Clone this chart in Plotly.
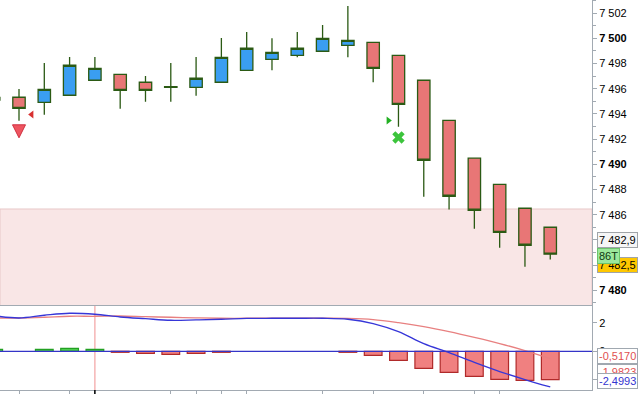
import plotly.graph_objects as go

# ---------------- data ----------------
bar_index = list(range(-1, 22))
opens  = [7495.30, 7495.32, 7494.92, 7495.48, 7496.67, 7497.14, 7496.51, 7496.16, 7496.11, 7496.51,
          7497.46, 7498.33, 7498.65, 7498.97, 7499.44, 7499.68, 7498.65, 7496.67, 7493.49, 7490.48,
          7488.41, 7486.51, 7485.00]
highs  = [7495.30, 7495.98, 7498.04, 7498.52, 7498.52, 7497.14, 7497.01, 7498.04, 7498.52, 7500.02,
          7500.50, 7500.00, 7500.50, 7501.06, 7502.56, 7499.68, 7498.65, 7496.67, 7493.49, 7490.48,
          7488.41, 7486.51, 7485.00]
lows   = [7495.10, 7493.46, 7493.94, 7495.48, 7496.67, 7494.41, 7494.97, 7494.97, 7495.44, 7496.51,
          7497.46, 7497.46, 7498.49, 7498.97, 7498.49, 7496.51, 7492.98, 7487.43, 7486.40, 7484.89,
          7483.38, 7481.87, 7482.44]
closes = [7495.10, 7494.44, 7495.95, 7497.86, 7497.62, 7495.87, 7495.87, 7496.10, 7496.83, 7498.49,
          7499.21, 7498.89, 7499.21, 7500.00, 7499.84, 7497.62, 7494.76, 7490.32, 7487.46, 7486.35,
          7484.60, 7483.57, 7482.86]

macd_line   = [2.49, 2.33, 2.52, 2.66, 2.59, 2.40, 2.28, 2.17, 2.20, 2.24, 2.30, 2.31, 2.31, 2.31,
               2.24, 1.94, 1.37, 0.53, -0.10, -0.78, -1.42, -1.98, -2.4993]
signal_line = [2.33, 2.33, 2.38, 2.45, 2.45, 2.47, 2.42, 2.38, 2.34, 2.31, 2.31, 2.31, 2.31, 2.31,
               2.30, 2.22, 2.00, 1.72, 1.37, 0.97, 0.54, 0.05, -0.5170]
histogram   = [0.14, 0.0, 0.14, 0.21, 0.14, -0.07, -0.14, -0.21, -0.14, -0.07, 0.0, 0.0, 0.0, 0.0,
               -0.07, -0.28, -0.63, -1.19, -1.47, -1.75, -1.96, -2.03, -1.98]

price_ticks = [7480, 7482, 7484, 7486, 7488, 7490, 7492, 7494, 7496, 7498, 7500, 7502]
price_minor = [7479, 7481, 7483, 7485, 7487, 7489, 7491, 7493, 7495, 7497, 7499, 7501, 7503]
bold_ticks = [7480, 7490, 7500]
time_ticks = [0, 2, 3, 6, 7, 8, 9, 12, 14, 16, 18, 19]
session_break = 3

zone_top = 7486.45
zone_bottom = 7470.0

sell_arrow_x, sell_arrow_y = [0], [7492.1]
sell_tri_x, sell_tri_y = [0.5], [7493.95]
buy_tri_x, buy_tri_y = [14.6], [7493.48]
exit_x, exit_y = [15], [7492.13]

last_close_label = "7 482,9"
last_low_label = "7 482,5"
tick_count_label = "86T"
signal_label = "-0,5170"
hist_label = "-1,9823"
macd_label = "-2,4993"

# ---------------- figure ----------------
AXIS = "#a2aab2"
EDGE = "#2b5a14"
FONT = "Arial"

def fmt(v):
    s = f"{v:,}".replace(",", " ")
    return f"<b>{s}</b>" if v in bold_ticks else s

fig = go.Figure()

fig.add_trace(go.Candlestick(
    x=bar_index, open=opens, high=highs, low=lows, close=closes,
    increasing=dict(fillcolor="#3a9ef2", line=dict(color=EDGE, width=1.3)),
    decreasing=dict(fillcolor="#e87676", line=dict(color=EDGE, width=1.3)),
    whiskerwidth=0, xaxis="x", yaxis="y", hoverinfo="skip"))

fig.add_trace(go.Scatter(x=sell_arrow_x, y=sell_arrow_y, mode="markers", xaxis="x", yaxis="y",
                         marker=dict(symbol="arrow-down", size=13, color="#ee5560",
                                     line=dict(color="#d03040", width=1))))
fig.add_trace(go.Scatter(x=sell_tri_x, y=sell_tri_y, mode="markers", xaxis="x", yaxis="y",
                         marker=dict(symbol="triangle-left", size=7, color="#d83030")))
fig.add_trace(go.Scatter(x=buy_tri_x, y=buy_tri_y, mode="markers", xaxis="x", yaxis="y",
                         marker=dict(symbol="triangle-right", size=7, color="#22b022")))
fig.add_trace(go.Scatter(x=exit_x, y=exit_y, mode="markers", xaxis="x", yaxis="y",
                         marker=dict(symbol="x", size=11, color="#3cc43c")))

hist_vals = [None if h == 0 else h for h in histogram]
hist_fill = ["#4ccc4c" if (h or 0) > 0 else "#f08080" for h in histogram]
hist_edge = ["#22a022" if (h or 0) > 0 else "#b02a2a" for h in histogram]
fig.add_trace(go.Bar(x=bar_index, y=hist_vals, xaxis="x2", yaxis="y2",
                     marker=dict(color=hist_fill, line=dict(color=hist_edge, width=1.2)),
                     hoverinfo="skip"))
fig.add_trace(go.Scatter(x=bar_index, y=signal_line, mode="lines", xaxis="x2", yaxis="y2",
                         line=dict(color="#e88080", width=1.3, shape="spline")))
fig.add_trace(go.Scatter(x=bar_index, y=macd_line, mode="lines", xaxis="x2", yaxis="y2",
                         line=dict(color="#3636d8", width=1.3, shape="spline")))

fig.update_layout(
    width=638, height=394,
    margin=dict(l=0, r=46, t=0, b=4),
    paper_bgcolor="white", plot_bgcolor="white",
    showlegend=False, bargap=0.3, boxgap=0.3,
    font=dict(family=FONT, size=11, color="black"),
    xaxis=dict(domain=[0, 1], range=[-0.751, 22.65], anchor="y",
               showticklabels=False, showgrid=False, zeroline=False,
               showline=True, linecolor=AXIS, linewidth=1, ticks="",
               rangeslider=dict(visible=False)),
    xaxis2=dict(domain=[0, 1], matches="x", anchor="y2",
                showticklabels=False, showgrid=False, zeroline=False,
                showline=True, linecolor=AXIS, linewidth=1,
                ticks="outside", ticklen=4, tickcolor=AXIS,
                tickmode="array", tickvals=time_ticks),
    yaxis=dict(domain=[0.218, 1], range=[7478.83, 7503.04], anchor="x", side="right",
               showgrid=False, zeroline=False, showline=True, linecolor=AXIS, linewidth=1,
               ticks="outside", ticklen=4, tickcolor=AXIS,
               tickmode="array", tickvals=price_ticks, ticktext=[fmt(v) for v in price_ticks],
               minor=dict(tickmode="array", tickvals=price_minor, ticks="outside",
                          ticklen=3, tickcolor=AXIS),
               tickfont=dict(family=FONT, size=11, color="black")),
    yaxis2=dict(domain=[0, 0.218], range=[-2.71, 3.24], anchor="x2", side="right",
                showgrid=False, zeroline=False, showline=True, linecolor=AXIS, linewidth=1,
                ticks="outside", ticklen=4, tickcolor=AXIS,
                tickmode="array", tickvals=[-2, 0, 2], ticktext=["-2", "0", "2"],
                tickfont=dict(family=FONT, size=11, color="black")),
)

# support zone
fig.add_shape(type="rect", xref="x domain", yref="y", x0=0, x1=1, y0=zone_bottom, y1=zone_top,
              fillcolor="#f9e6e6", line=dict(color="#e8c8c8", width=1), layer="below")
# zero line of oscillator
fig.add_shape(type="line", xref="x2 domain", yref="y2", x0=0, x1=1, y0=0, y1=0,
              line=dict(color="#3434c8", width=1.3), layer="above")
# session break
fig.add_shape(type="line", xref="x2", yref="y2 domain", x0=session_break, x1=session_break,
              y0=0, y1=1, line=dict(color="#f2a2a2", width=1.2), layer="below")
fig.add_shape(type="line", xref="x2", yref="paper", x0=session_break, x1=session_break,
              y0=0, y1=-0.011, line=dict(color="black", width=1.5))

def tag(text, yval, yref, bg, fg, border, shift=5):
    fig.add_annotation(text=text, xref="paper", x=1, xanchor="left", xshift=shift,
                       yref=yref, y=yval, yanchor="middle", showarrow=False,
                       bgcolor=bg, bordercolor=border, borderwidth=1, borderpad=1,
                       font=dict(family=FONT, size=11, color=fg))

tag(last_close_label, 7484.0, "y", "#f6f6f6", "black", "#a0a4a8")
tag(last_low_label, 7481.97, "y", "#ffc800", "black", "#a0a4a8")
tag(tick_count_label, 7482.72, "y", "#9ce89c", "#103810", "#6cc46c")
tag(signal_label, -0.36, "y2", "white", "#e05050", "#a0a8b0")
tag(hist_label, -1.45, "y2", "white", "#e05050", "#a0a8b0")
tag(macd_label, -2.11, "y2", "white", "#3434d0", "#a0a8b0")

fig.write_html("out.html")
